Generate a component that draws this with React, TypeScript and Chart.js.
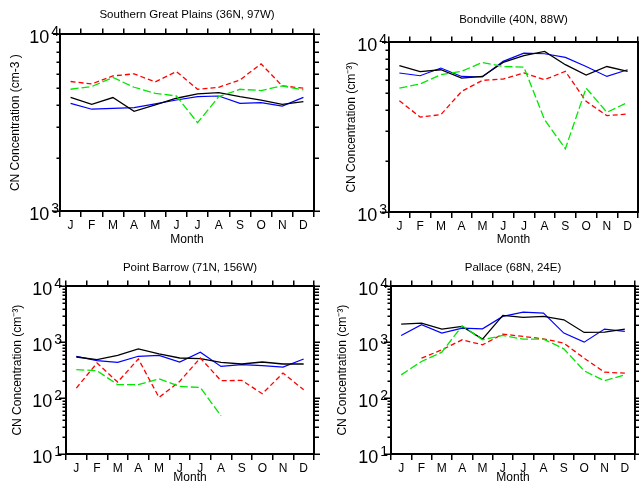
import React, { useEffect, useRef } from "react";
import { Chart, registerables } from "chart.js";

Chart.register(...registerables);

// ---------- data ----------
const MONTHS = ["J", "F", "M", "A", "M", "J", "J", "A", "S", "O", "N", "D"];

// Southern Great Plains (36N, 97W)
const SGP_BLACK = [4400, 4020, 4390, 3670, 3990, 4350, 4600, 4680, 4440, 4250, 4020, 4160];
const SGP_BLUE = [4070, 3770, 3810, 3850, 4040, 4250, 4440, 4480, 4070, 4110, 3930, 4400];
const SGP_RED = [5410, 5240, 5820, 5980, 5380, 6160, 4890, 5020, 5520, 6810, 5110, 4960];
const SGP_GREEN = [4890, 5070, 5700, 5020, 4640, 4480, 3160, 4440, 4890, 4810, 5110, 4850];

// Bondville (40N, 88W)
const BND_BLACK = [7290, 6720, 6900, 6160, 6300, 7620, 8350, 8850, 7390, 6420, 7210, 6750];
const BND_BLUE = [6600, 6360, 7060, 6300, 6250, 7730, 8650, 8570, 8160, 7210, 6300, 6900];
const BND_RED = [4530, 3630, 3750, 5140, 5970, 6080, 6600, 6030, 6750, 4490, 3700, 3780];
const BND_GREEN = [5380, 5680, 6450, 6750, 7620, 7210, 7150, 3500, 2360, 5380, 3870, 4430];

// Point Barrow (71N, 156W)
const BRW_BLACK = [545, 488, 584, 759, 617, 523, 509, 437, 408, 443, 408, 408];
const BRW_BLUE = [561, 469, 437, 561, 584, 443, 661, 370, 397, 381, 360, 502];
const BRW_RED = [151, 425, 194, 502, 103, 199, 523, 205, 208, 120, 281, 141];
const BRW_GREEN = [323, 310, 174, 174, 222, 162, 155, 48, null, null, null, null];

// Pallace (68N, 24E)
const PAL_BLACK = [2115, 2200, 1720, 1920, 1140, 3025, 2785, 2900, 2530, 1500, 1520, 1720];
const PAL_BLUE = [1324, 2057, 1458, 1792, 1742, 2902, 3470, 3330, 1458, 1005, 1721, 1562];
const PAL_RED = [null, 519, 732, 1107, 901, 1399, 1271, 1154, 965, 519, 291, 280];
const PAL_GREEN = [261, 453, 665, 1973, 1107, 1324, 1138, 1138, 764, 308, 204, 261];

// y tick label base (exponent is taken from the tick value)
const Y_TICK_BASE = "10";

const FONT = "'Liberation Sans', Arial, sans-serif";

type Series = (number | null)[];

interface PanelProps {
  title: string;
  yTitle: string;
  yMinExp: number;
  yMaxExp: number;
  black: Series;
  blue: Series;
  red: Series;
  green: Series;
  left: number;
  top: number;
  width: number;
  height: number;
  yW: number;
  y2W: number;
  titlePadTop: number;
  x2H: number;
  xH: number;
  yTitlePad: number;
  yLabelPad: number;
}

function isPow10(v: number) {
  const l = Math.log10(v);
  return Math.abs(l - Math.round(l)) < 1e-9;
}

// outward tick marks on the log axes + "10^n" labels with a raised exponent
const yTickPlugin = {
  id: "yTickMarks",
  afterDraw(chart: any, _args: any, opts: any) {
    const y = chart.scales.y;
    const { left, right } = chart.chartArea;
    const ctx = chart.ctx;
    ctx.save();
    ctx.strokeStyle = "#000";
    ctx.lineWidth = 1.5;
    y.ticks.forEach((t: any) => {
      const py = Math.round(y.getPixelForValue(t.value)) + 0.25;
      const major = isPow10(t.value);
      ctx.beginPath();
      ctx.moveTo(left - (major ? 7 : 3.5), py);
      ctx.lineTo(left, py);
      ctx.moveTo(right, py);
      ctx.lineTo(right + (major ? 7 : 5), py);
      ctx.stroke();
    });
    ctx.fillStyle = "#000";
    ctx.textBaseline = "middle";
    ctx.textAlign = "left";
    const pad = (opts && opts.pad) || 2;
    y.ticks.forEach((t: any) => {
      if (!isPow10(t.value)) return;
      const py = y.getPixelForValue(t.value);
      const exp = String(Math.round(Math.log10(t.value)));
      ctx.font = `14px ${FONT}`;
      const w2 = ctx.measureText(exp).width;
      ctx.font = `18px ${FONT}`;
      const w1 = ctx.measureText(Y_TICK_BASE).width;
      const R = left - pad;
      ctx.fillText(Y_TICK_BASE, R - w2 - 2 - w1, py + 4);
      ctx.font = `14px ${FONT}`;
      ctx.fillText(exp, R - w2, py - 2);
    });
    ctx.restore();
  },
};

function Panel(p: PanelProps) {
  const ref = useRef<HTMLCanvasElement | null>(null);
  useEffect(() => {
    if (!ref.current) return;
    const yMin = Math.pow(10, p.yMinExp);
    const yMax = Math.pow(10, p.yMaxExp);
    const tickVals: number[] = [];
    for (let e = p.yMinExp; e < p.yMaxExp; e++) {
      for (let s = 1; s <= 9; s++) tickVals.push(s * Math.pow(10, e));
    }
    tickVals.push(yMax);

    const line = (data: Series, color: string, width: number, dash: number[]) => ({
      data,
      borderColor: color,
      backgroundColor: color,
      borderWidth: width,
      borderDash: dash,
      pointRadius: 0,
      tension: 0,
      spanGaps: false,
      fill: false,
    });

    const gridX = {
      display: true,
      drawOnChartArea: false,
      drawTicks: true,
      tickLength: 6,
      offset: true,
      color: "#000",
      lineWidth: 1.5,
    };
    const border = { display: true, color: "#000", width: 2 };

    const chart = new Chart(ref.current, {
      type: "line",
      data: {
        labels: MONTHS,
        datasets: [
          line(p.green, "#00e800", 1.3, [8, 3]),
          line(p.red, "#ff0000", 1.3, [5, 3]),
          line(p.black, "#000000", 1.3, []),
          line(p.blue, "#0000ff", 1.2, []),
        ],
      },
      options: {
        animation: false,
        responsive: false,
        maintainAspectRatio: false,
        events: [],
        layout: { padding: 0 },
        plugins: {
          legend: { display: false },
          tooltip: { enabled: false },
          yTickMarks: { pad: p.yLabelPad },
          title: {
            display: true,
            text: p.title,
            fullSize: false,
            color: "#000",
            font: { family: FONT, size: 11.5, weight: "normal" },
            padding: { top: p.titlePadTop, bottom: 0 },
          },
        },
        scales: {
          x: {
            type: "category",
            position: "bottom",
            offset: true,
            grid: gridX,
            border,
            ticks: {
              autoSkip: false,
              maxRotation: 0,
              padding: 1,
              color: "#000",
              font: { family: FONT, size: 12 },
            },
            title: {
              display: true,
              text: "Month",
              color: "#000",
              font: { family: FONT, size: 12 },
              padding: { top: 0, bottom: 0 },
            },
            afterFit: (s: any) => {
              s.height = p.xH;
            },
          },
          x2: {
            type: "category",
            position: "top",
            labels: MONTHS,
            offset: true,
            grid: gridX,
            border,
            ticks: { display: false },
            afterFit: (s: any) => {
              s.height = p.x2H;
            },
          },
          y: {
            type: "logarithmic",
            position: "left",
            min: yMin,
            max: yMax,
            grid: { display: false, drawTicks: false },
            border,
            afterBuildTicks: (s: any) => {
              s.ticks = tickVals.map((v) => ({ value: v }));
            },
            ticks: { display: false, autoSkip: false },
            title: {
              display: true,
              text: p.yTitle,
              color: "#000",
              font: { family: FONT, size: 12 },
              padding: { top: p.yTitlePad, bottom: 0 },
            },
            afterFit: (s: any) => {
              s.width = p.yW;
            },
          },
          y2: {
            type: "logarithmic",
            position: "right",
            min: yMin,
            max: yMax,
            grid: { display: false, drawTicks: false },
            border,
            ticks: { display: false },
            afterFit: (s: any) => {
              s.width = p.y2W;
            },
          },
        },
      } as any,
      plugins: [yTickPlugin],
    });
    return () => chart.destroy();
  }, []);

  return (
    <canvas
      ref={ref}
      width={p.width}
      height={p.height}
      style={{ position: "absolute", left: p.left, top: p.top, width: p.width, height: p.height }}
    />
  );
}

export default function App() {
  const supUnit = "CN Concentration (cm\u207b\u00b3)";
  return (
    <div style={{ position: "absolute", left: 0, top: 0, width: 639, height: 485, background: "#fff", overflow: "hidden" }}>
      <Panel
        title="Southern Great Plains (36N, 97W)"
        yTitle="CN Concentration (cm-3 )"
        yMinExp={3}
        yMaxExp={4}
        black={SGP_BLACK}
        blue={SGP_BLUE}
        red={SGP_RED}
        green={SGP_GREEN}
        left={0}
        top={0}
        width={320}
        height={247}
        yW={60}
        y2W={6}
        titlePadTop={7.8}
        x2H={12.8}
        xH={36}
        yTitlePad={8.3}
        yLabelPad={1}
      />
      <Panel
        title="Bondville (40N, 88W)"
        yTitle={supUnit}
        yMinExp={3}
        yMaxExp={4}
        black={BND_BLACK}
        blue={BND_BLUE}
        red={BND_RED}
        green={BND_GREEN}
        left={320}
        top={0}
        width={319}
        height={247}
        yW={69}
        y2W={1}
        titlePadTop={12.8}
        x2H={15.8}
        xH={35}
        yTitlePad={24.8}
        yLabelPad={2}
      />
      <Panel
        title="Point Barrow (71N, 156W)"
        yTitle={supUnit}
        yMinExp={1}
        yMaxExp={4}
        black={BRW_BLACK}
        blue={BRW_BLUE}
        red={BRW_RED}
        green={BRW_GREEN}
        left={0}
        top={245}
        width={320}
        height={240}
        yW={66}
        y2W={6}
        titlePadTop={15.8}
        x2H={11.8}
        xH={31}
        yTitlePad={10.8}
        yLabelPad={4}
      />
      <Panel
        title="Pallace (68N, 24E)"
        yTitle={supUnit}
        yMinExp={1}
        yMaxExp={4}
        black={PAL_BLACK}
        blue={PAL_BLUE}
        red={PAL_RED}
        green={PAL_GREEN}
        left={320}
        top={245}
        width={319}
        height={240}
        yW={71}
        y2W={4}
        titlePadTop={15.8}
        x2H={11.8}
        xH={31}
        yTitlePad={15.3}
        yLabelPad={3}
      />
    </div>
  );
}
